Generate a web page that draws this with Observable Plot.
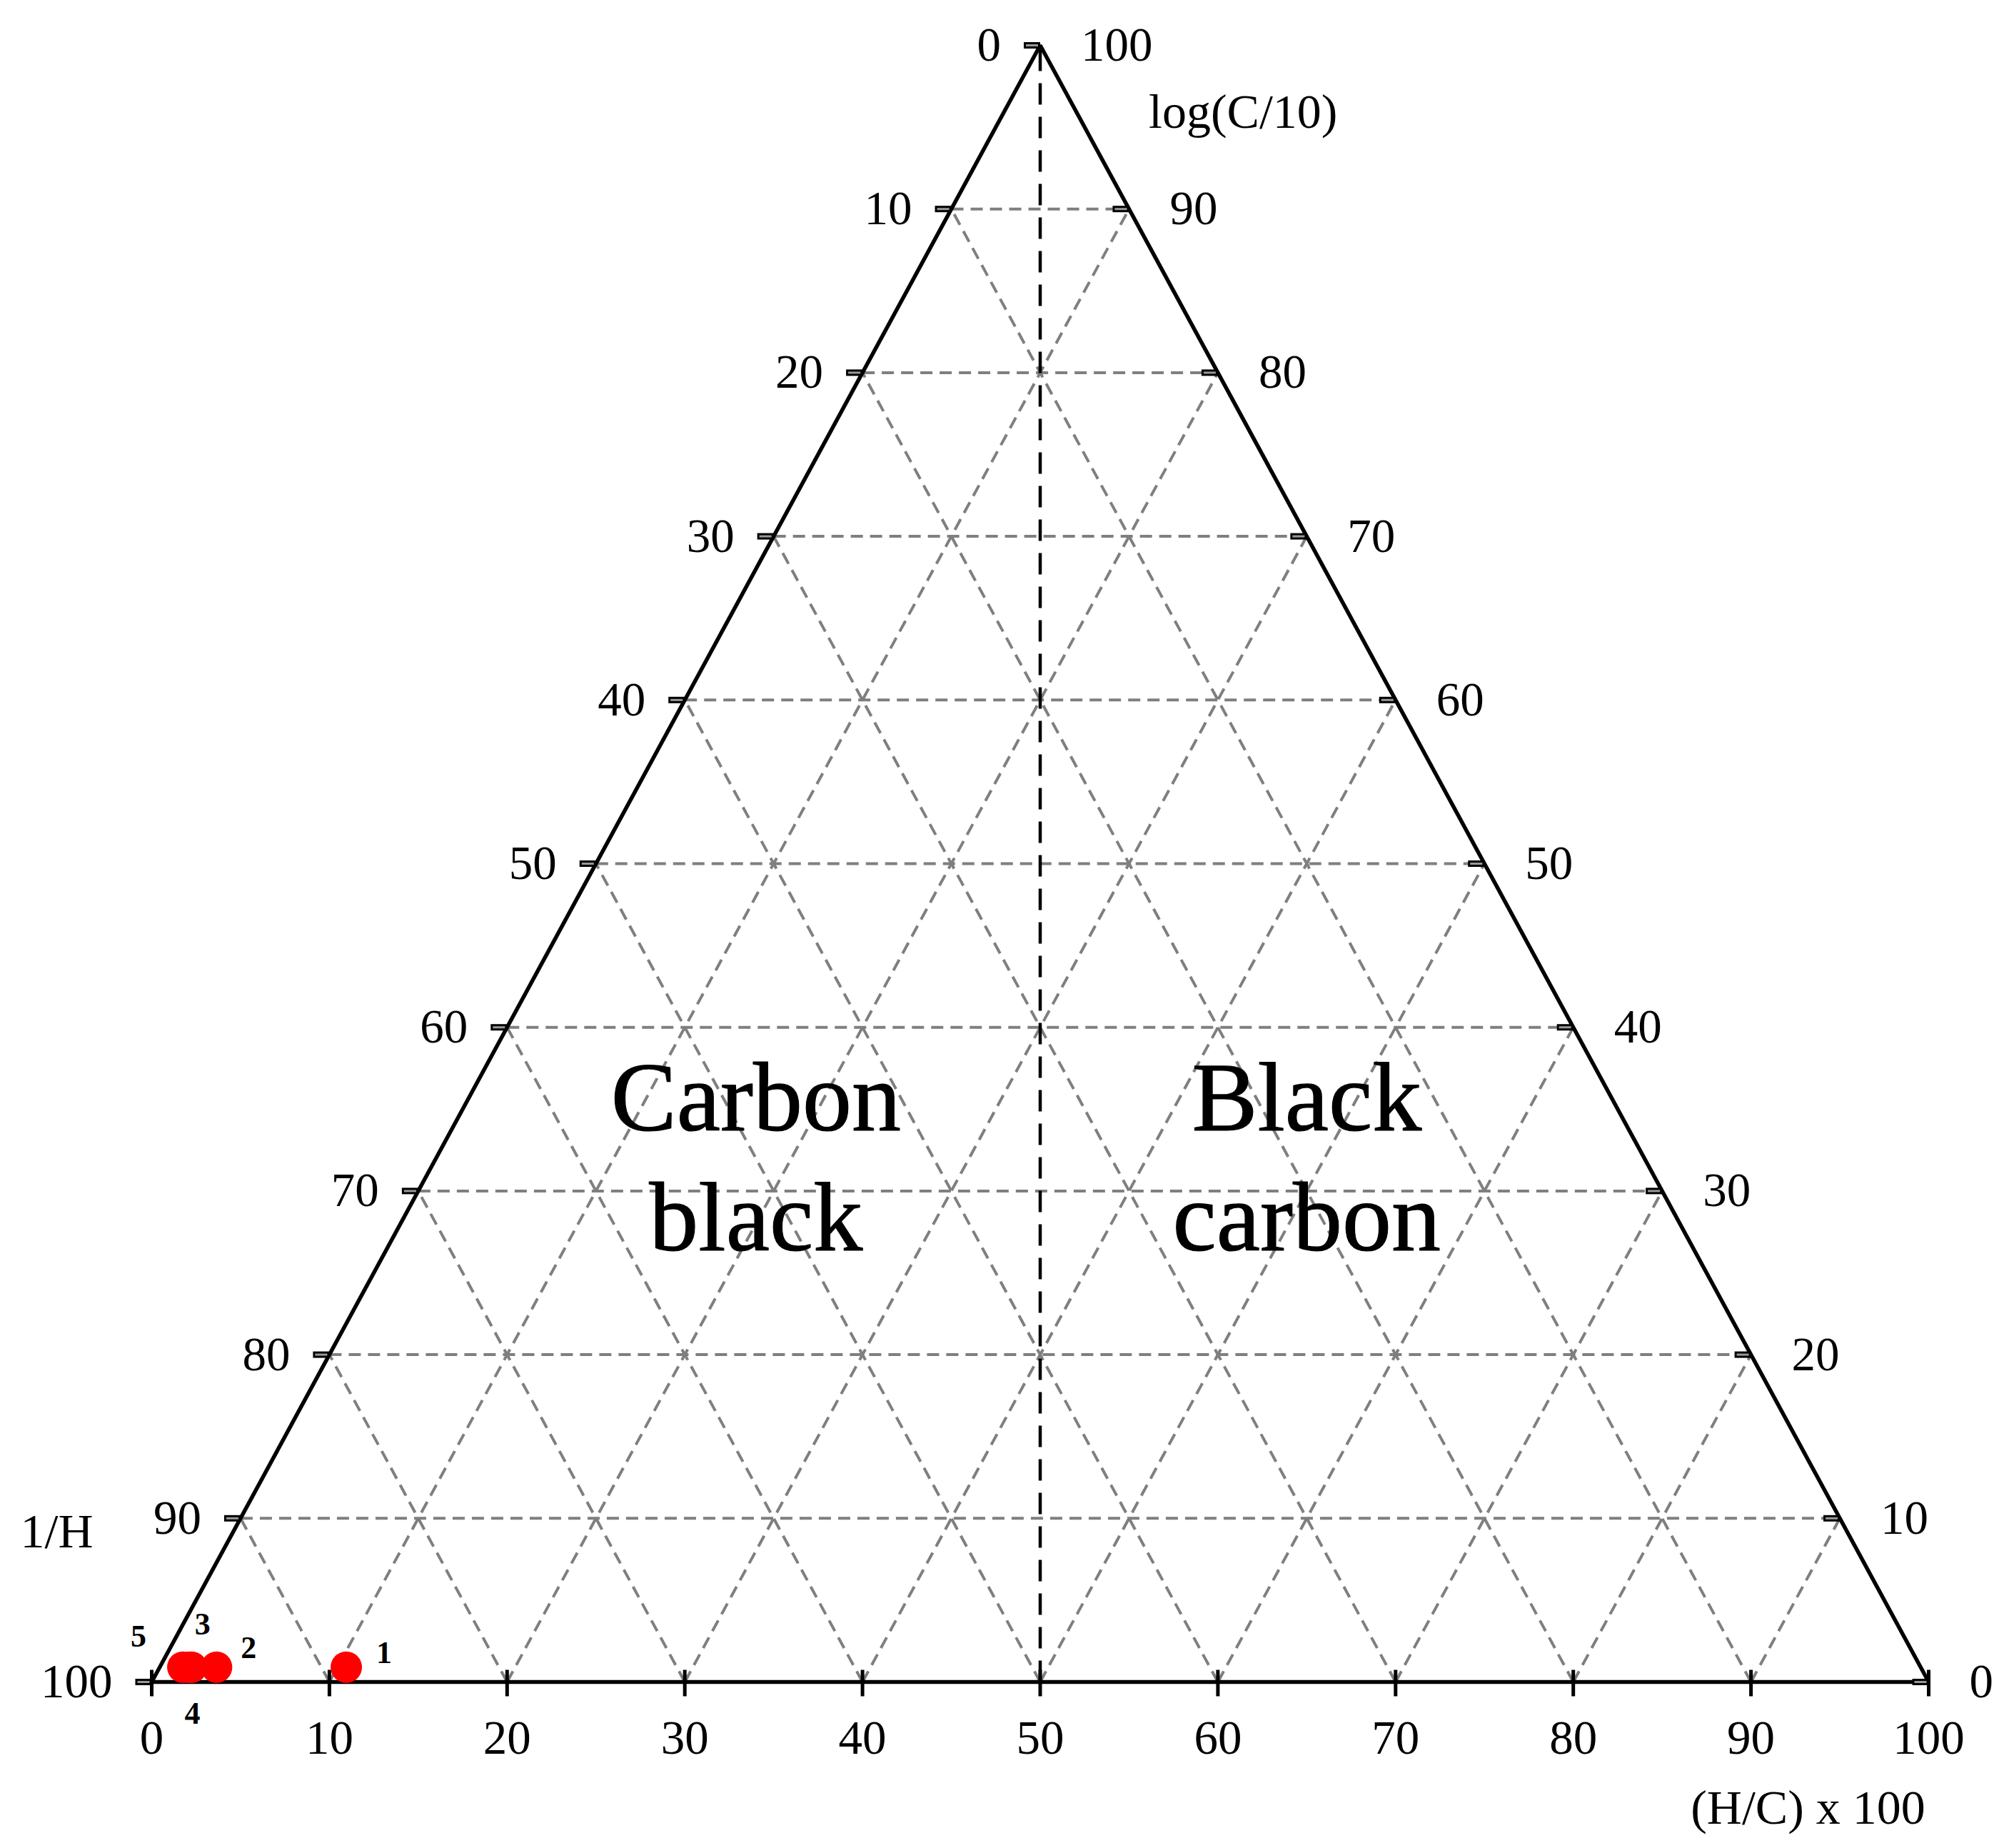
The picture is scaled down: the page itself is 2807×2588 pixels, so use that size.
<!DOCTYPE html>
<html><head><meta charset="utf-8">
<script src="https://cdn.jsdelivr.net/npm/d3@7"></script>
<script src="https://cdn.jsdelivr.net/npm/@observablehq/plot@0.6"></script>
<style>html,body{margin:0;padding:0;background:#fff}</style>
</head><body><div id="chart"></div>
<script>
// Tick values / labels
const hcTicks = [0, 10, 20, 30, 40, 50, 60, 70, 80, 90, 100];      // bottom axis: (H/C) x 100
const logCTicks = [0, 10, 20, 30, 40, 50, 60, 70, 80, 90, 100];    // right axis: log(C/10) (height)
const invHTicks = [100, 90, 80, 70, 60, 50, 40, 30, 20, 10, 0];    // left axis: 1/H (bottom to top)

// Samples
const sampleIds = ["1", "2", "3", "4", "5"];
const sampleHC = [10.5, 3.2, 1.65, 1.8, 1.3];
const sampleLogC = [0.9, 0.9, 0.9, 0.9, 0.9];

// Region names
const regionNames = ["Carbon\nblack", "Black\ncarbon"];
const regionHC = [34, 65];
const regionLogC = [32.4, 32.4];

const W = 2807, H = 2588;
const mL = 212, mR = 106, mT = 63, mB = 233;
const tl = 23 * 100 / (W - mL - mR);      // tick length (px) in data units
const tbUp = 17 * 100 / (H - mT - mB), tbDn = 20 * 100 / (H - mT - mB);

const inner = hcTicks.filter(v => v > 0 && v < 100);
const innerH = logCTicks.filter(v => v > 0 && v < 100);
const lo = hcTicks[0], hi = hcTicks[hcTicks.length - 1], mid = (lo + hi) / 2;
const corners = [[lo, 0], [hi, 0], [mid, hi], [lo, 0]];

const cx = i => sampleHC[i] + sampleLogC[i] / 2;
const labelOffsets = {"1": [53, -20], "2": [45, -27], "3": [19, -60], "4": [1, 65], "5": [-62, -43]};

const grid = {stroke: "#7f7f7f", strokeWidth: 4, strokeDasharray: "17,10"};
const font = "Liberation Serif, Times New Roman, serif";

const chart = Plot.plot({
  width: W, height: H,
  marginLeft: mL, marginRight: mR, marginTop: mT, marginBottom: mB,
  x: {domain: [lo, hi], axis: null},
  y: {domain: [lo, hi], axis: null},
  style: {fontFamily: font, background: "#fff", color: "#000"},
  marks: [
    // grid
    Plot.link(innerH, {x1: h => h / 2, y1: h => h, x2: h => hi - h / 2, y2: h => h, ...grid}),
    Plot.link(inner, {x1: b => b, y1: 0, x2: b => b / 2, y2: b => b, ...grid}),
    Plot.link(inner, {x1: b => b, y1: 0, x2: b => (hi + b) / 2, y2: b => hi - b, ...grid}),
    // center dividing line
    Plot.link([mid], {x1: d => d, x2: d => d, y1: 0, y2: hi, stroke: "#000", strokeWidth: 4.5, strokeDasharray: "30,17"}),
    // triangle
    Plot.line(corners, {x: d => d[0], y: d => d[1], stroke: "#000", strokeWidth: 5.5, strokeLinejoin: "miter"}),
    // left ticks
    Plot.link(logCTicks, {x1: h => h / 2 - tl, x2: h => h / 2, y1: h => h, y2: h => h, stroke: "#000", strokeWidth: 9}),
    Plot.link(logCTicks, {x1: h => h / 2 - tl + 0.12, x2: h => h / 2 - 0.12, y1: h => h, y2: h => h, stroke: "#999", strokeWidth: 3}),
    // right ticks
    Plot.link(logCTicks, {x1: h => hi - h / 2 - tl, x2: h => hi - h / 2, y1: h => h, y2: h => h, stroke: "#000", strokeWidth: 9}),
    Plot.link(logCTicks, {x1: h => hi - h / 2 - tl + 0.12, x2: h => hi - h / 2 - 0.12, y1: h => h, y2: h => h, stroke: "#999", strokeWidth: 3}),
    // bottom ticks
    Plot.link(hcTicks, {x1: b => b, x2: b => b, y1: -tbDn, y2: tbUp, stroke: "#000", strokeWidth: 5}),
    // tick labels
    Plot.text(invHTicks, {x: v => (hi - v) / 2, y: v => hi - v, text: v => String(v), textAnchor: "end", dx: -55, fontSize: 67, fill: "#000"}),
    Plot.text(logCTicks, {x: h => hi - h / 2, y: h => h, text: h => String(h), textAnchor: "start", dx: 57, fontSize: 67, fill: "#000"}),
    Plot.text(hcTicks, {x: b => b, y: 0, text: b => String(b), dy: 79, fontSize: 67, fill: "#000"}),
    // axis titles
    Plot.text(["log(C/10)"], {x: mid, y: hi, text: d => d, textAnchor: "start", dx: 152, dy: 94, fontSize: 68, fill: "#000"}),
    Plot.text(["1/H"], {x: lo, y: 0, text: d => d, dx: -133, dy: -210, fontSize: 68, fill: "#000"}),
    Plot.text(["(H/C) x 100"], {x: hi, y: 0, text: d => d, dx: -169, dy: 177, fontSize: 68, fill: "#000"}),
    // region labels
    Plot.text(regionNames, {x: (d, i) => regionHC[i], y: (d, i) => regionLogC[i], text: d => d, fontSize: 138, lineHeight: 1.22, fill: "#000", stroke: "#000", strokeWidth: 1.2}),
    // samples
    Plot.dot(sampleIds.map((d, i) => i), {x: i => cx(i), y: i => sampleLogC[i], r: 22, fill: "#ff0000", stroke: "none"}),
    ...sampleIds.map((id, i) => Plot.text([i], {
      x: j => cx(j), y: j => sampleLogC[j], text: j => sampleIds[j],
      dx: labelOffsets[id][0], dy: labelOffsets[id][1], fontWeight: "bold", fontSize: 44, fill: "#000"
    }))
  ]
});
document.getElementById("chart").appendChild(chart);
</script>
</body></html>
